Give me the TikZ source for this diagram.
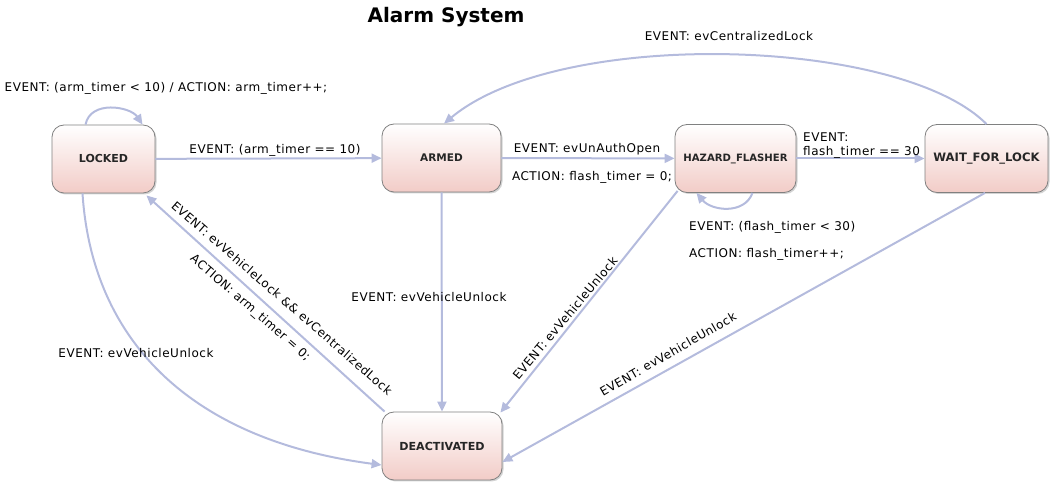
\documentclass[tikz,border=0pt]{standalone}
\usepackage{fontspec}
\setmainfont{DejaVu Sans}
\newfontfamily\lblfont{DejaVu Sans}[LetterSpace=4.5]
\usetikzlibrary{arrows.meta,shadows}
\definecolor{edgeblue}{RGB}{180,187,221}
\definecolor{statepink}{RGB}{242,204,199}
\definecolor{stateborder}{RGB}{128,128,128}
\newcommand{\statesize}[1]{\fontsize{#1}{12}\selectfont\bfseries}
\tikzset{
  state/.style={draw=stateborder, line width=0.8pt, rounded corners=12pt, top color=white, bottom color=statepink,
    minimum height=68pt, inner sep=0pt, font=\statesize{10.5}, text=black!85,
    drop shadow={shadow xshift=1.5pt, shadow yshift=-1.5pt, opacity=0.35}},
  trans/.style={draw=edgeblue, line width=2pt, -{Triangle[length=10pt,width=9pt]}},
  lbl/.style={font=\lblfont\fontsize{12}{14}\selectfont, text=black, inner sep=0pt}
}
\begin{document}
\begin{tikzpicture}[x=1pt,y=1pt]
\useasboundingbox (0,0) rectangle (1052,487);
\node[font=\fontsize{20}{24}\selectfont\bfseries] (title) at (446,470) {Alarm System};

\node[state, minimum width=103pt, font=\statesize{11}] (locked) at (103.5,328) {LOCKED};
\node[state, minimum width=119pt] (armed) at (441.5,329) {ARMED};
\node[state, minimum width=121pt, font=\statesize{10.1}] (hazard) at (735.5,328.5) {HAZARD\_FLASHER};
\node[state, minimum width=123pt, font=\statesize{11.6}] (wait) at (986.5,328.5) {WAIT\_FOR\_LOCK};
\node[state, minimum width=120pt, font=\statesize{11.1}] (deact) at (442,41) {DEACTIVATED};

\draw[trans] ([xshift=-18pt]locked.north) .. controls +(5,25) and +(-12,18) .. ([xshift=39pt]locked.north);
\draw[trans] (locked) -- (armed);
\draw[trans] (armed) -- (hazard);
\draw[trans] (hazard) -- (wait);
\draw[trans] ([xshift=17pt]hazard.south) .. controls +(-8,-22) and +(15,-18) .. ([xshift=-39pt]hazard.south);
\draw[trans] (wait.north) .. controls (900,450) and (560,460) .. ([xshift=2.5pt]armed.north);
\draw[trans] (armed.south) -- (deact.north);
\draw[trans] ([xshift=3pt,yshift=2pt]hazard.south west) -- ([xshift=-2pt,yshift=-1pt]deact.north east);
\draw[trans] ([xshift=-1.5pt]wait.south) -- ([yshift=-16pt]deact.east);
\draw[trans] ([xshift=3pt]deact.north west) -- ([xshift=-9pt,yshift=-2pt]locked.south east);
\draw[trans] ([xshift=-21pt]locked.south) .. controls (92,147) and (190,47) .. ([yshift=-19pt]deact.west);

\node[lbl] (l1) at (166,399) {EVENT: (arm\_timer < 10) / ACTION: arm\_timer++;};
\node[lbl] (l2) at (275,337) {EVENT: (arm\_timer == 10)};
\node[lbl] (l3) at (587,338) {EVENT: evUnAuthOpen};
\node[lbl] (l4) at (592,310) {ACTION: flash\_timer = 0;};
\node[lbl, anchor=west, align=left] (l5) at (803,341.5) {EVENT:\\flash\_timer == 30};
\node[lbl, anchor=west] (l6) at (689,260) {EVENT: (flash\_timer < 30)};
\node[lbl, anchor=west] (l7) at (689,233) {ACTION: flash\_timer++;};
\node[lbl] (l8) at (729,451) {EVENT: evCentralizedLock};
\node[lbl] (l9) at (429,190) {EVENT: evVehicleUnlock};
\node[lbl, rotate=50] (l10) at (565,169) {EVENT: evVehicleUnlock};
\node[lbl, rotate=30] (l11) at (668,133) {EVENT: evVehicleUnlock};
\node[lbl, rotate=-41] (l12) at (282,189) {EVENT: evVehicleLock \&\& evCentralizedLock};
\node[lbl, rotate=-41] (l13) at (250,179) {ACTION: arm\_timer = 0;};
\node[lbl] (l14) at (136,134) {EVENT: evVehicleUnlock};
\end{tikzpicture}
\end{document}
